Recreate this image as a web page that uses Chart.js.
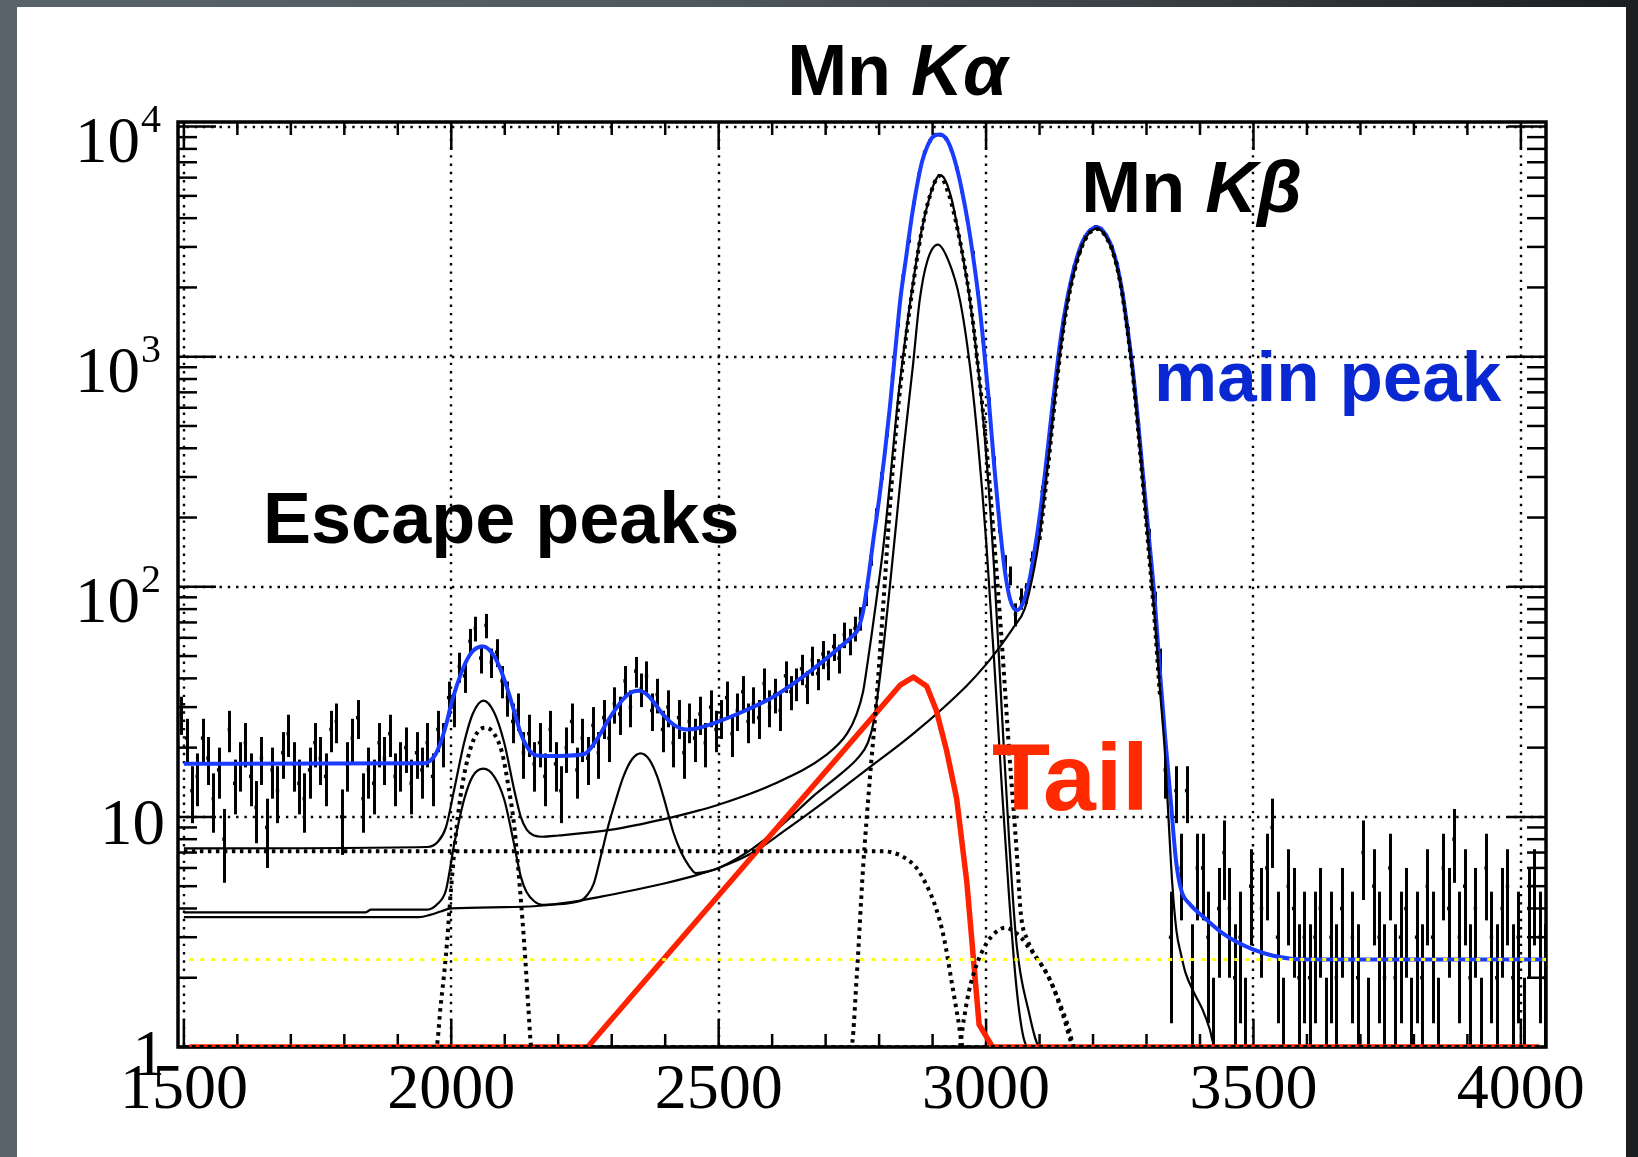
<!DOCTYPE html>
<html>
<head>
<meta charset="utf-8">
<title>Mn K lines - fit components</title>
<script src="https://cdn.jsdelivr.net/npm/chart.js@4.4.1/dist/chart.umd.min.js"></script>
<style>
    html, body { margin: 0; padding: 0; }
    body {
        width: 1638px;
        height: 1157px;
        overflow: hidden;
        background: linear-gradient(90deg, #59636a 0%, #505a5f 40%, #3a4043 70%, #1c1d1e 100%);
    }
    #sheet { position: absolute; left: 17px; top: 7px; width: 1609px; height: 1150px; background: #fff; }
    #wrap { position: absolute; left: 0; top: 0; width: 1638px; height: 1157px; }
</style>
</head>
<body>
<div id="sheet"></div>
<div id="wrap"><canvas id="spectrum"></canvas></div>
<script>
// histogram: counts per 10-channel bin, first bin starts at 1490
const binLow = 1490;
const binWidth = 10;
const counts = [
    28, 22, 13, 15, 22, 18, 12, 16, 8, 24, 14, 17, 21, 15, 11, 18, 9, 16, 13, 19,
    23, 17, 14, 12, 16, 21, 18, 15, 24, 26, 10, 17, 22, 27, 12, 16, 14, 21, 18, 23,
    15, 17, 20, 14, 19, 16, 21,
    15, 24, 21, 33, 30, 45, 41, 58, 66, 49, 68, 47, 52, 39, 33, 26, 29, 19, 23, 17,
    21, 15, 24, 17, 13, 20, 26, 16, 22,
    18, 25, 19, 27, 22, 31, 28, 39, 30, 43, 36, 41, 29, 34, 24, 30, 21, 27, 19, 26, 22,
    28, 21, 30, 24, 27, 33, 23, 29, 35, 26, 31, 27, 38, 30, 34, 29, 41, 35, 38, 44,
    37, 48, 42, 51, 46, 55, 49, 62, 58, 66, 73, 92,
    135, 205, 310, 470, 820, 1380, 2240, 3180, 4650, 6250, 7740, 8650, 9230, 9200,
    8870, 7950, 6580, 5230, 3960, 2830, 1880, 1170, 640, 350, 185, 126, 112,
    76, 89, 94, 131, 164, 259, 381, 652, 987, 1468, 1931, 2470, 2885, 3318, 3534,
    3672, 3581, 3362, 2987, 2516, 1887, 1312, 846, 507, 271, 166, 86, 47, 16, 3,
    13, 6,
    13, 2, 6, 6, 3, 1, 4, 7, 4, 2, 3, 1, 5, 0, 4, 6, 9, 3, 1, 5,
    4, 2, 3, 2, 3, 4, 1, 3, 2, 4, 0, 3, 2, 7, 1, 5, 3, 2, 6, 2,
    3, 4, 1, 3, 2, 5, 3, 1, 6, 4, 8, 3, 5, 2, 4, 1, 6, 3, 2, 4,
    5, 2, 3, 1, 4, 5, 3, 2
];

// fitted function and its components, [channel, value]
const fitTotal = [
    [1500, 17], [1950, 17.1], [1960, 17.5], [1970, 18.6], [1980, 21], [1990, 25], [2000, 31],
    [2010, 37], [2020, 43], [2030, 48.5], [2040, 52.5], [2050, 54.5], [2060, 55], [2070, 53.5],
    [2080, 50], [2090, 45], [2100, 39], [2110, 33], [2120, 27.5], [2130, 23], [2140, 20.5],
    [2150, 19], [2160, 18.5], [2200, 18.4], [2250, 18.8], [2260, 19.8], [2270, 21.3],
    [2280, 23.2], [2290, 25.5], [2300, 27.8], [2310, 30], [2320, 32.2], [2330, 34], [2340, 35],
    [2350, 35.3], [2360, 34.8], [2370, 33.3], [2380, 31.2], [2390, 29], [2400, 27.2],
    [2410, 25.8], [2420, 24.8], [2430, 24.2], [2440, 24], [2460, 24.3], [2500, 26], [2550, 29],
    [2600, 33], [2650, 39.5], [2700, 48.5], [2730, 55.5], [2750, 61], [2760, 65], [2770, 78],
    [2780, 110], [2790, 165], [2800, 240], [2810, 370], [2820, 600], [2830, 1050], [2840, 1800],
    [2850, 2650], [2860, 3900], [2870, 5400], [2880, 7000], [2890, 8200], [2900, 9000],
    [2913, 9250], [2925, 8900], [2935, 7950], [2945, 6650], [2955, 5250], [2965, 3950],
    [2975, 2800], [2985, 1880], [2995, 1150], [3005, 650], [3015, 340], [3025, 190], [3035, 118],
    [3045, 88], [3057, 79], [3068, 84], [3080, 104], [3090, 140], [3100, 200], [3110, 310],
    [3120, 500], [3130, 800], [3140, 1220], [3150, 1700], [3160, 2200], [3170, 2700],
    [3180, 3150], [3190, 3450], [3200, 3620], [3207, 3650], [3215, 3600], [3225, 3350],
    [3235, 3000], [3245, 2500], [3255, 1900], [3265, 1300], [3275, 850], [3285, 500],
    [3295, 280], [3305, 160], [3315, 90], [3325, 43], [3335, 22], [3345, 12], [3355, 6.5],
    [3365, 4.8], [3380, 4.2], [3405, 3.7], [3440, 3.15], [3470, 2.85], [3500, 2.65],
    [3535, 2.5], [3570, 2.42], [3600, 2.4], [4047, 2.4]
];
const fitConst = [[1510, 2.4], [4047, 2.4]];
const tailShape = [
    [1510, 1], [2255, 1], [2840, 37.5], [2864, 40.5], [2889, 37], [2907, 29], [2926, 19.5],
    [2945, 12], [2964, 5.2], [2987, 1.25], [3012, 1], [4035, 1]
];
const kaLine = [
    [1500, 7.3], [1955, 7.4], [1975, 7.8], [1990, 9], [2005, 13], [2024, 21], [2040, 28],
    [2060, 32], [2080, 28.5], [2099, 21], [2118, 13], [2130, 10], [2141, 8.8], [2155, 8.3],
    [2170, 8.2], [2200, 8.3], [2300, 8.8], [2400, 9.8], [2465, 10.7], [2500, 11.3], [2600, 13.8],
    [2700, 18.5], [2740, 23], [2758, 28], [2770, 35], [2778, 46], [2786, 62], [2795, 88],
    [2808, 150], [2820, 280], [2833, 580], [2848, 1150], [2860, 1850], [2879, 3500],
    [2895, 5000], [2905, 5800], [2913, 6150], [2922, 5950], [2935, 4900], [2948, 3500],
    [2960, 2450], [2970, 1750], [2985, 900], [3000, 380], [3015, 120], [3029, 30], [3043, 8],
    [3057, 2.8], [3079, 1.45], [3101, 1], [4035, 1]
];
const ka2Line = [
    [1500, 3.85], [1840, 3.85], [1850, 3.95], [1955, 3.95], [1975, 4.2], [1990, 4.8],
    [2005, 7.5], [2024, 11.9], [2040, 15], [2060, 16.2], [2080, 15], [2099, 11.9], [2118, 7.5],
    [2130, 5.5], [2141, 4.7], [2155, 4.3], [2170, 4.15], [2240, 4.3], [2255, 4.6], [2266, 5.1],
    [2280, 6.8], [2295, 9.4], [2308, 11.9], [2322, 15], [2338, 17.8], [2354, 18.9], [2370, 17.8],
    [2385, 15], [2400, 11.5], [2415, 8.6], [2430, 7], [2445, 6.1], [2457, 5.7], [2480, 5.8],
    [2500, 6.0], [2564, 7.3], [2620, 9.3], [2680, 12.5], [2730, 15.5], [2760, 18], [2779, 21],
    [2790, 26], [2800, 38], [2810, 60], [2820, 100], [2833, 200], [2845, 380], [2863, 905],
    [2876, 1770], [2890, 2600], [2910, 3070], [2930, 2600], [2951, 1770], [2970, 905],
    [2985, 420], [3000, 160], [3015, 48], [3029, 14], [3043, 4.5], [3057, 1.8], [3070, 1.1],
    [3080, 1], [4035, 1]
];
const kbLine = [
    [1500, 3.67], [1940, 3.67], [1960, 3.75], [1980, 3.88], [2000, 4.0], [2100, 4.05],
    [2160, 4.1], [2220, 4.25], [2280, 4.5], [2340, 4.8], [2400, 5.15], [2460, 5.6], [2500, 6.0],
    [2564, 7.0], [2620, 8.6], [2695, 11.5], [2776, 16], [2864, 23], [2963, 37], [3000, 46],
    [3026, 55], [3050, 66], [3072, 80], [3090, 120], [3100, 165], [3110, 260], [3120, 420],
    [3130, 700], [3140, 1100], [3150, 1600], [3160, 2100], [3170, 2600], [3180, 3050],
    [3190, 3380], [3200, 3560], [3207, 3600], [3215, 3540], [3225, 3300], [3235, 2950],
    [3245, 2450], [3255, 1860], [3265, 1270], [3275, 820], [3285, 470], [3295, 255],
    [3305, 140], [3315, 75], [3325, 36], [3334, 19.6], [3341, 10], [3348, 5.2], [3356, 3.2],
    [3365, 2.5], [3373, 2.1], [3390, 1.7], [3405, 1.45], [3418, 1.2], [3428, 1], [4035, 1]
];
const kaShelf = [
    [1500, 7.1], [2800, 7.1], [2825, 7.0], [2850, 6.6], [2870, 6.0], [2886, 5.2], [2905, 4.1],
    [2921, 3.0], [2936, 1.9], [2947, 1.35], [2957, 1.0], [4035, 1]
];
const kaEscape = [
    [1500, 1], [1972, 1], [1980, 1.5], [1990, 2.5], [2000, 5], [2010, 9], [2020, 13.5],
    [2035, 19.5], [2050, 23.5], [2065, 24.4], [2080, 23], [2095, 19], [2107, 13.5], [2118, 9],
    [2128, 5], [2138, 2.5], [2144, 1.5], [2150, 1], [4035, 1]
];
const kaPeak = [
    [1500, 1], [2748, 1], [2758, 2], [2770, 6], [2782, 14], [2795, 32], [2808, 85], [2820, 220],
    [2833, 520], [2848, 1100], [2860, 1800], [2879, 3460], [2895, 5000], [2913, 6100],
    [2930, 5100], [2948, 3460], [2970, 1770], [2985, 905], [3000, 420], [3015, 160], [3030, 55],
    [3043, 19.6], [3057, 7.2], [3065, 3.8], [3078, 2.9], [3093, 2.47], [3108, 2.2], [3122, 1.9],
    [3140, 1.5], [3155, 1.2], [3165, 1.0], [4035, 1]
];
const kaBump = [
    [1500, 1], [2950, 1], [2958, 1.3], [2968, 1.75], [2983, 2.3], [3000, 2.8], [3018, 3.15],
    [3036, 3.3], [3050, 3.2], [3065, 3.0], [3080, 2.7], [3093, 2.47], [3122, 1.9], [3145, 1.35],
    [3165, 1], [4035, 1]
];
const kbPeak = [
    [3100, 160], [3110, 250], [3120, 410], [3130, 690], [3140, 1090], [3150, 1590], [3160, 2090],
    [3170, 2590], [3180, 3040], [3190, 3370], [3200, 3550], [3207, 3590], [3215, 3530],
    [3225, 3290], [3235, 2940], [3245, 2440], [3255, 1850], [3265, 1260], [3275, 810],
    [3285, 460], [3295, 250], [3305, 136], [3315, 72], [3325, 34]
];

// axis divisions
const xMajorTicks = [1500, 2000, 2500, 3000, 3500, 4000];
const xMinorTicks = [1600, 1700, 1800, 1900, 2100, 2200, 2300, 2400, 2600, 2700, 2800, 2900,
    3100, 3200, 3300, 3400, 3600, 3700, 3800, 3900];
const yDecades = [1, 10, 100, 1000, 10000];
const yExponents = [0, 1, 2, 3, 4];
const yMinorSteps = [2, 3, 4, 5, 6, 7, 8, 9];

function toPoints(pairs) {
    return pairs.map(p => ({ x: p[0], y: p[1] }));
}

function segment(ctx, x1, y1, x2, y2) {
    ctx.beginPath();
    ctx.moveTo(x1, y1);
    ctx.lineTo(x2, y2);
    ctx.stroke();
}

// draws a run of text pieces with their own font styles, starting at (px, py)
function textRun(ctx, parts, px, py, size, color) {
    ctx.fillStyle = color;
    ctx.textAlign = 'left';
    ctx.textBaseline = 'alphabetic';
    let cx = px;
    parts.forEach(p => {
        ctx.font = p[1] + ' ' + size + 'px "Liberation Sans", Arial, sans-serif';
        ctx.fillText(p[0], cx, py);
        cx += ctx.measureText(p[0]).width;
    });
}

// ROOT-like frame: dotted grid, inward ticks, serif labels, error bars.
// The frame goes under the curves so the functions sitting at the minimum stay visible.
const rootFrame = {
    id: 'rootFrame',
    beforeDatasetsDraw(chart) {
        const { ctx, chartArea: a } = chart;
        const xs = chart.scales.x, ys = chart.scales.y;
        ctx.save();
        ctx.strokeStyle = '#000';

        ctx.save();
        ctx.beginPath();
        ctx.rect(a.left, a.top, a.right - a.left, a.bottom - a.top);
        ctx.clip();
        ctx.lineWidth = 2.4;
        ctx.setLineDash([2.4, 5.9]);
        xMajorTicks.forEach(v => {
            const px = Math.round(xs.getPixelForValue(v));
            segment(ctx, px, a.top, px, a.bottom);
        });
        yDecades.slice(1).forEach(v => {
            const py = Math.round(ys.getPixelForValue(v));
            segment(ctx, a.left, py, a.right, py);
        });
        ctx.setLineDash([]);

        // sqrt(N) error bars
        ctx.lineWidth = 3;
        counts.forEach((n, i) => {
            if (n <= 0) return;
            const err = Math.sqrt(n);
            const px = Math.round(xs.getPixelForValue(binLow + (i + 0.5) * binWidth)) + 0.5;
            const lo = n - err > 0 ? ys.getPixelForValue(n - err) : a.bottom + 5;
            segment(ctx, px, lo, px, ys.getPixelForValue(n + err));
        });
        ctx.restore();

        // ticks on all four sides
        ctx.lineWidth = 2.5;
        xMajorTicks.forEach(v => {
            const px = xs.getPixelForValue(v);
            segment(ctx, px, a.bottom, px, a.bottom - 28);
            segment(ctx, px, a.top, px, a.top + 28);
        });
        xMinorTicks.forEach(v => {
            const px = xs.getPixelForValue(v);
            segment(ctx, px, a.bottom, px, a.bottom - 13);
            segment(ctx, px, a.top, px, a.top + 13);
        });
        yDecades.forEach(d => {
            const py = ys.getPixelForValue(d);
            segment(ctx, a.left, py, a.left + 38, py);
            segment(ctx, a.right, py, a.right - 38, py);
            yMinorSteps.forEach(m => {
                if (d * m > ys.max) return;
                const pm = ys.getPixelForValue(d * m);
                segment(ctx, a.left, pm, a.left + 19, pm);
                segment(ctx, a.right, pm, a.right - 19, pm);
            });
        });

        ctx.lineWidth = 3.5;
        ctx.strokeRect(a.left, a.top, a.right - a.left, a.bottom - a.top);
        ctx.restore();
    },
    afterDatasetsDraw(chart) {
        const { ctx, chartArea: a } = chart;
        const xs = chart.scales.x, ys = chart.scales.y;
        ctx.save();

        // axis numbers
        ctx.fillStyle = '#000';
        ctx.textBaseline = 'alphabetic';
        ctx.font = '64px "Liberation Serif", "Times New Roman", serif';
        ctx.textAlign = 'center';
        xMajorTicks.forEach(v => {
            ctx.fillText(String(v), xs.getPixelForValue(v), a.bottom + 61);
        });
        yDecades.forEach((d, i) => {
            const py = ys.getPixelForValue(d);
            const e = yExponents[i];
            ctx.textAlign = 'right';
            ctx.font = '65px "Liberation Serif", "Times New Roman", serif';
            if (e === 0) {
                ctx.fillText('1', a.left - 13, py + 28);
            } else if (e === 1) {
                ctx.fillText('10', a.left - 13, py + 27);
            } else {
                ctx.fillText('10', a.left - 38, py + 35);
                ctx.textAlign = 'left';
                ctx.font = '40px "Liberation Serif", "Times New Roman", serif';
                ctx.fillText(String(e), a.left - 37, py + 5);
            }
        });

        // line labels, anchored in data coordinates
        textRun(ctx, [['Mn ', 'bold'], ['K\u03b1', 'italic bold']],
            xs.getPixelForValue(2628), ys.getPixelForValue(13780), 72, '#000');
        textRun(ctx, [['Mn ', 'bold'], ['K\u03b2', 'italic bold']],
            xs.getPixelForValue(3178), ys.getPixelForValue(4270), 72, '#000');
        textRun(ctx, [['main peak', 'bold']],
            xs.getPixelForValue(3314), ys.getPixelForValue(644), 71, '#0a28d2');
        textRun(ctx, [['Escape peaks', 'bold']],
            xs.getPixelForValue(1648), ys.getPixelForValue(155), 72, '#000');
        textRun(ctx, [['Tail', 'bold']],
            xs.getPixelForValue(3011), ys.getPixelForValue(10.7), 95, '#ff2a00');
        ctx.restore();
    }
};

// lower order is painted later, i.e. on top
const dotted = { borderColor: '#000', borderWidth: 4, borderDash: [3.5, 4.5], cubicInterpolationMode: 'monotone', order: 1 };
const thin = { borderColor: '#000', borderWidth: 2.2, cubicInterpolationMode: 'monotone', order: 3 };

new Chart(document.getElementById('spectrum'), {
    type: 'line',
    data: {
        datasets: [
            { label: 'constant', data: toPoints(fitConst), borderColor: '#ffff00', borderWidth: 3, borderDash: [4, 7], order: 0 },
            { label: 'tail', data: toPoints(tailShape), borderColor: '#ff2200', borderWidth: 5.5, tension: 0, order: 2 },
            Object.assign({ label: 'Ka shelf', data: toPoints(kaShelf) }, dotted),
            Object.assign({ label: 'Ka escape', data: toPoints(kaEscape) }, dotted),
            Object.assign({ label: 'Ka main', data: toPoints(kaPeak) }, dotted),
            Object.assign({ label: 'Ka shoulder', data: toPoints(kaBump) }, dotted),
            Object.assign({ label: 'Kb main', data: toPoints(kbPeak) }, dotted),
            Object.assign({ label: 'Ka', data: toPoints(kaLine) }, thin),
            Object.assign({ label: 'Ka2', data: toPoints(ka2Line) }, thin),
            Object.assign({ label: 'Kb', data: toPoints(kbLine) }, thin),
            { label: 'total', data: toPoints(fitTotal), borderColor: '#1a3cff', borderWidth: 4, cubicInterpolationMode: 'monotone', order: 4 },
            {
                label: 'data',
                data: counts.map((n, i) => ({ x: binLow + (i + 0.5) * binWidth, y: n > 0 ? n : null })),
                showLine: false,
                pointStyle: 'rect',
                pointRadius: 2.4,
                pointBackgroundColor: '#000',
                pointBorderWidth: 0,
                order: 5
            }
        ]
    },
    options: {
        responsive: true,
        maintainAspectRatio: false,
        animation: false,
        events: [],
        layout: { padding: { left: 178, top: 122, right: 92, bottom: 110 } },
        elements: {
            point: { radius: 0 },
            line: { borderJoinStyle: 'round', fill: false }
        },
        scales: {
            x: { type: 'linear', min: 1489, max: 4047, display: false },
            y: { type: 'logarithmic', min: 1, max: 10471, display: false }
        },
        plugins: {
            legend: { display: false },
            tooltip: { enabled: false }
        }
    },
    plugins: [rootFrame]
});
</script>
</body>
</html>
